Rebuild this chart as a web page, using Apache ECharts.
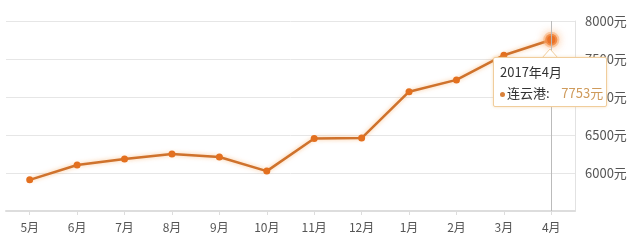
<!DOCTYPE html>
<html>
<head>
<meta charset="utf-8">
<script src="https://cdn.jsdelivr.net/npm/echarts@6/dist/echarts.min.js"></script>
<style>
html,body{margin:0;padding:0;background:#fff;}
#c{width:640px;height:241px;}
</style>
</head>
<body>
<div id="c"></div>
<script>
const categories = ['5月','6月','7月','8月','9月','10月','11月','12月','1月','2月','3月','4月'];
const prices = [5910, 6105, 6185, 6250, 6210, 6025, 6455, 6460, 7070, 7225, 7550, 7753];
const seriesName = '连云港';
const tipTitle = '2017年4月';
const yMin = 5500, yMax = 8000, yStep = 500;

const chart = echarts.init(document.getElementById('c'), null, {renderer:'canvas'});
const font = '"Noto Sans CJK SC", "Noto Sans", sans-serif';
const data = prices.map((v, i) => i === prices.length - 1 ? {
  value: v,
  symbolSize: 11,
  itemStyle: {color:'#e9691c', borderColor:'rgba(248,170,110,0.5)', borderWidth:4, shadowColor:'rgba(250,160,90,0.7)', shadowBlur:8}
} : v);

chart.setOption({
  animation: false,
  textStyle: {fontFamily: font},
  grid: {left: 6, right: 65, top: 21, bottom: 30, containLabel: false},
  tooltip: {
    trigger: 'axis',
    alwaysShowContent: true,
    transitionDuration: 0,
    showDelay: 0,
    backgroundColor: '#fff',
    borderColor: '#f0cd9c',
    borderWidth: 1,
    padding: 0,
    extraCssText: 'box-shadow:0 0 3px rgba(240,190,120,0.5);border-radius:2px;overflow:visible;',
    position: function () { return [493, 57]; },
    axisPointer: {type: 'line', lineStyle: {color: '#bbb', width: 1, type: 'solid'}},
    formatter: function (params) {
      const p = params[0];
      return '<div style="position:relative;width:112px;height:48px;font-family:' + font.replace(/"/g,"'") + ';">' +
        '<div style="position:absolute;left:6px;top:5px;font-size:13px;line-height:18px;color:#333;">' + tipTitle + '</div>' +
        '<div style="position:absolute;left:6px;top:26px;font-size:13px;line-height:18px;color:#333;white-space:nowrap;">' +
        '<span style="display:inline-block;width:5px;height:5px;border-radius:50%;background:#d9813a;margin-right:2px;vertical-align:middle;"></span>' +
        p.seriesName + ':&nbsp;&nbsp;&nbsp;&nbsp;<span style="color:#cf9b5c;">' + p.value + '元</span></div>' +
        '</div>';
    }
  },
  graphic: [
    {type:'polygon', z: 100, shape:{points:[[542,58],[550,49],[558,58]]}, style:{fill:'#fff', stroke:'#f0cd9c', lineWidth:1}}
  ],
  xAxis: {
    type: 'category',
    data: categories,
    boundaryGap: true,
    axisLine: {show: true, lineStyle: {color: '#ddd', width: 2}},
    axisTick: {show: true, alignWithLabel: true, length: 4, lineStyle: {color: '#ddd'}},
    axisLabel: {color: '#555', fontSize: 12, margin: 10, fontFamily: font},
    splitLine: {show: false}
  },
  yAxis: {
    type: 'value',
    position: 'right',
    min: yMin, max: yMax, interval: yStep,
    axisLine: {show: true, lineStyle: {color: '#e2e2e2', width: 1}},
    axisTick: {show: false},
    axisLabel: {color: '#555', fontSize: 13, margin: 10, showMinLabel: false, formatter: function (v) { return v + '元'; }, fontFamily: font},
    splitLine: {show: true, lineStyle: {color: '#e6e6e6', width: 1}}
  },
  series: [{
    name: seriesName,
    type: 'line',
    data: data,
    symbol: 'circle',
    symbolSize: 7,
    showSymbol: true,
    itemStyle: {color: '#e3701f'},
    lineStyle: {color: '#cf722c', width: 2.5, shadowColor: 'rgba(245,150,60,0.55)', shadowBlur: 4},
    emphasis: {disabled: true}
  }]
});
chart.dispatchAction({type: 'showTip', seriesIndex: 0, dataIndex: prices.length - 1});
</script>
</body>
</html>
